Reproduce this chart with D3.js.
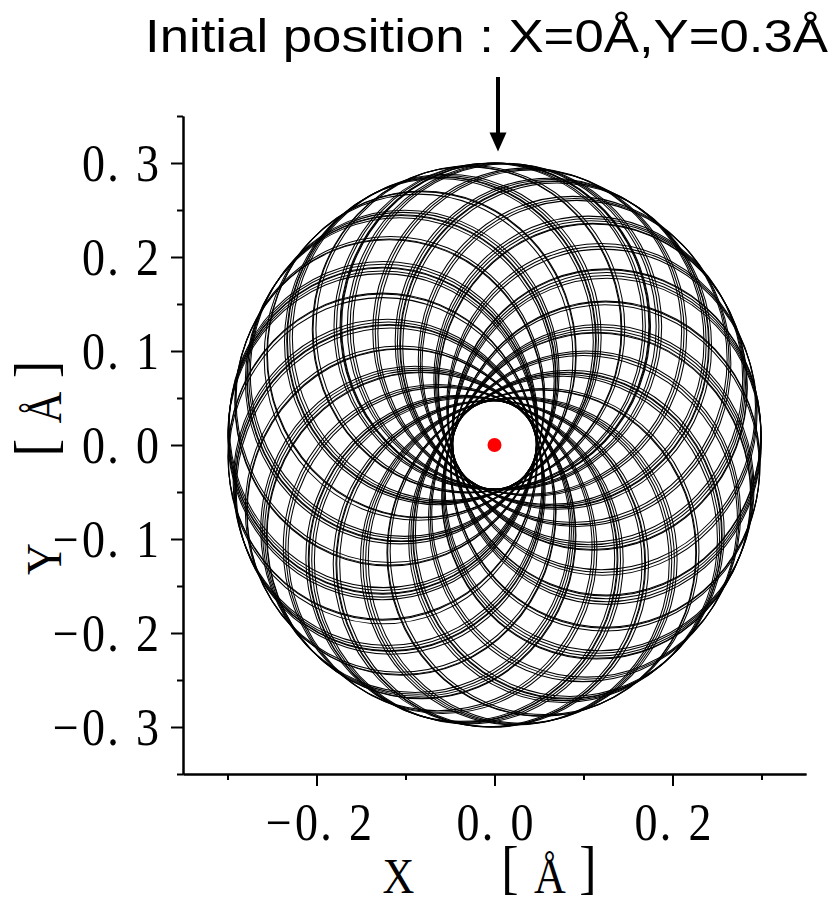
<!DOCTYPE html>
<html><head><meta charset="utf-8">
<script src="https://cdn.jsdelivr.net/npm/d3@7"></script>
<style>body{margin:0;background:#fff}svg{display:block}</style>
</head><body>
<svg id="chart" width="837" height="903"></svg>
<script>
// ---- data ----
const xDomain = [-0.35, 0.35];
const yDomain = [-0.35, 0.35];
const xMajorTicks = [-0.2, 0.0, 0.2];
const xMinorTicks = [-0.3, -0.1, 0.1, 0.3];
const xTickLabels = ["−0. 2", "0. 0", "0. 2"];
const yMajorTicks = [-0.3, -0.2, -0.1, 0.0, 0.1, 0.2, 0.3];
const yMinorTicks = [-0.35, -0.25, -0.15, -0.05, 0.05, 0.15, 0.25, 0.35];
const yTickLabels = ["−0. 3", "−0. 2", "−0. 1", "0. 0", "0. 1", "0. 2", "0. 3"];
const titleText = "Initial position : X=0Å,Y=0.3Å";
const xTitleParts = ["X", "[", "Å", "]"];
const yTitleParts = ["Y", "[", "Å", "]"];
const initialPosition = [0.0, 0.3];
const centerPosition = [0.0, 0.0];
const orbitRMax = 0.3;     // outer turning radius [Å]
const orbitRMin = 0.047;   // inner turning radius [Å]
// direction (deg) of the outer turning point of each loop of the trajectory
const loopApoAngles = [
  89.2, 89.6, 90, 91.8, 93.1,
  102.4, 103.9, 104.3,
  115.1, 116.6, 117.9, 118.3, 119.6,
  130.2, 130.6, 132.4,
  142.9, 144.2, 145.6, 146, 147.3,
  157.5, 158.8, 159.2,
  170.1, 171.5, 172.9, 173.3, 174.7, 176,
  185.4, 185.8, 187.6,
  198.3, 199.7, 201, 201.4, 202.8,
  212.6, 214, 214.4,
  225.2, 226.5, 227.9, 229.2, 229.6,
  239.7, 241.1, 242.5,
  252.3, 253.6, 254, 255.4, 256.8,
  266.5, 267.9, 268.3, 269.8,
  280.4, 281.7, 283.1, 284.5,
  294.6, 295, 296.4,
  307.5, 308.9, 310.2, 310.6, 312,
  321.8, 323.2, 324.5,
  334.6, 335, 336.3, 337.7, 339,
  348.9, 350.3, 350.7,
  1.8, 3.1, 4.5, 5.9, 6.3,
  16, 17.4, 18.8,
  29.1, 29.5, 30.9, 32.2, 33.6,
  43.3, 44.6, 46,
  56.2, 57.6, 58, 59.4, 60.7,
  70.4, 71.8, 73.1,
  83.5, 84.9, 86.3
];

// ---- layout ----
const svg = d3.select("#chart");
const x = d3.scaleLinear().domain(xDomain).range([183, 806]);
const y = d3.scaleLinear().domain(yDomain).range([774, 116]);
const serif = "'Liberation Serif','DejaVu Serif',serif";

// trajectory loops
const loopR = (orbitRMax + orbitRMin) / 2;
const loopD = (orbitRMax - orbitRMin) / 2;
svg.append("g").selectAll("ellipse").data(loopApoAngles).join("ellipse")
  .attr("cx", a => x(loopD * Math.cos(a * Math.PI / 180)))
  .attr("cy", a => y(loopD * Math.sin(a * Math.PI / 180)))
  .attr("rx", x(loopR) - x(0))
  .attr("ry", y(0) - y(loopR))
  .attr("fill", "none").attr("stroke", "#000").attr("stroke-width", 1.05);

// red center point
svg.append("circle").attr("cx", x(centerPosition[0])).attr("cy", y(centerPosition[1]))
  .attr("r", 7).attr("fill", "#ff0000");

// per-character layout for the tick labels (fixed-pitch look)
const adv = ch => ch === "." ? 16 : ch === " " ? 15 : ch === "−" ? 33 : 23;
function layoutChars(str) {
  let pos = 0; const out = [];
  for (const ch of str) { const w = adv(ch); out.push({ch, c: pos + w / 2}); pos += w; }
  return {chars: out, width: pos};
}
function drawLabel(textSel, str, anchor) {
  const L = layoutChars(str);
  const shift = anchor === "end" ? -L.width : -L.width / 2;
  textSel.text(null);
  L.chars.forEach(o => {
    if (o.ch === " ") return;
    textSel.append("tspan").attr("x", o.c + shift).attr("text-anchor", "middle").text(o.ch);
  });
}

// y axis
const yAxis = svg.append("g").attr("transform", `translate(${x(xDomain[0])},0)`)
  .call(d3.axisLeft(y).tickValues(yMajorTicks).tickSize(12).tickSizeOuter(0)
    .tickFormat((d, i) => yTickLabels[i]));
svg.append("g").attr("transform", `translate(${x(xDomain[0])},0)`)
  .call(d3.axisLeft(y).tickValues(yMinorTicks).tickSize(6).tickSizeOuter(0).tickFormat(""));
yAxis.selectAll(".tick text").each(function(d, i) {
  const t = d3.select(this);
  t.attr("x", null).attr("dy", null).attr("y", 0)
   .attr("transform", "translate(-24,17.5) scale(1,1.13)")
   .attr("font-family", serif).attr("font-size", 46).attr("fill", "#000");
  drawLabel(t, yTickLabels[i], "end");
});

// x axis
const xAxis = svg.append("g").attr("transform", `translate(0,${y(yDomain[0])})`)
  .call(d3.axisBottom(x).tickValues(xMajorTicks).tickSize(12).tickSizeOuter(0)
    .tickFormat((d, i) => xTickLabels[i]));
svg.append("g").attr("transform", `translate(0,${y(yDomain[0])})`)
  .call(d3.axisBottom(x).tickValues(xMinorTicks).tickSize(6).tickSizeOuter(0).tickFormat(""));
xAxis.selectAll(".tick text").each(function(d, i) {
  const t = d3.select(this);
  t.attr("dy", null).attr("y", 0)
   .attr("transform", "translate(0,66) scale(1,1.13)")
   .attr("font-family", serif).attr("font-size", 46).attr("fill", "#000");
  drawLabel(t, xTickLabels[i], "middle");
});

svg.selectAll(".domain, .tick line").attr("stroke", "#000").attr("stroke-width", 2);

// axis titles
const titleOffsets = [0, 111.5, 151.5, 189.5];
const titleDy = [0, 5, 0, 5];
const titleSize = [44, 52, 44, 52];
const xt = svg.append("text").attr("transform", "translate(0,893) scale(1,1.13)")
  .attr("font-family", serif).attr("fill", "#000");
xTitleParts.forEach((p, i) => xt.append("tspan").attr("x", 398.5 + titleOffsets[i])
  .attr("y", -titleDy[i]).attr("font-size", titleSize[i]).attr("text-anchor", "middle").text(p));
const yt = svg.append("text").attr("transform", "translate(61,0) rotate(-90) scale(1,1.13)")
  .attr("font-family", serif).attr("fill", "#000");
yTitleParts.forEach((p, i) => yt.append("tspan").attr("x", -(559 - titleOffsets[i]))
  .attr("y", -titleDy[i]).attr("font-size", titleSize[i]).attr("text-anchor", "middle").text(p));

// top annotation and arrow
svg.append("text").attr("x", 145).attr("y", 52)
  .attr("font-family", "'Liberation Sans',Arial,sans-serif").attr("font-size", 46)
  .attr("textLength", 683).attr("lengthAdjust", "spacingAndGlyphs")
  .attr("fill", "#000").text(titleText);
const ax = x(initialPosition[0]) + 3.5;
const tipY = y(initialPosition[1]) - 11.5;
svg.append("line").attr("x1", ax).attr("x2", ax).attr("y1", 77).attr("y2", tipY - 15)
  .attr("stroke", "#000").attr("stroke-width", 4);
svg.append("path").attr("d", `M${ax},${tipY} L${ax - 8.5},${tipY - 19} L${ax + 8.5},${tipY - 19} Z`)
  .attr("fill", "#000");
</script>
</body></html>
